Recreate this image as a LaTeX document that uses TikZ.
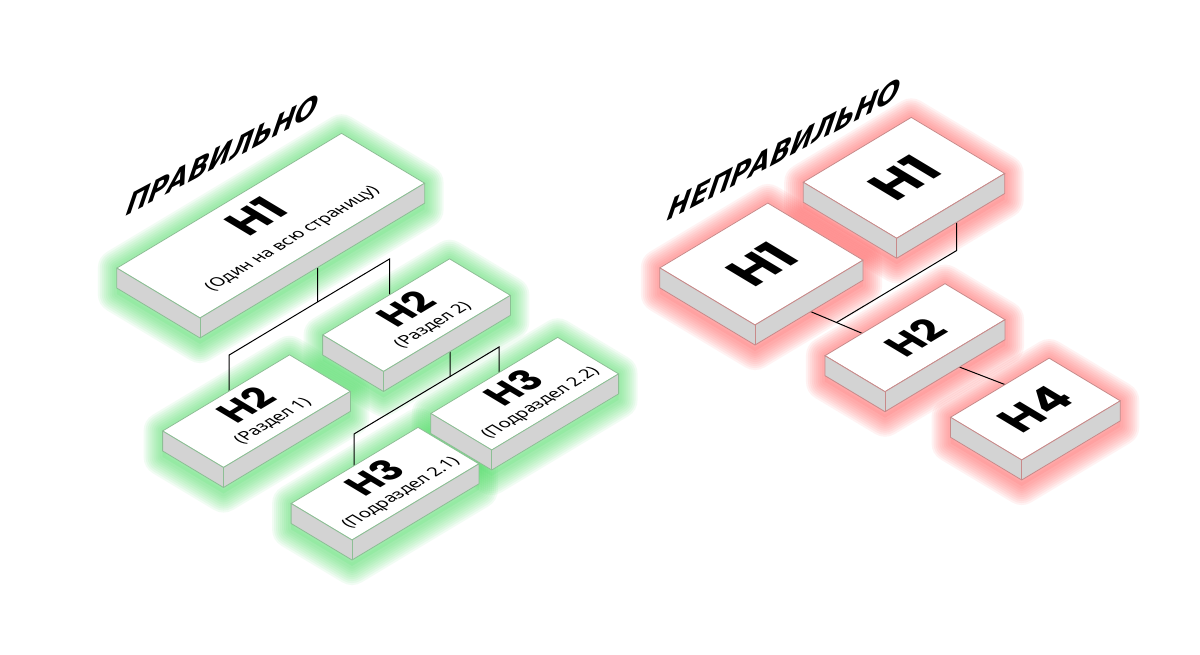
\documentclass[tikz,border=0pt]{standalone}
\usepackage{fontspec}
\setmainfont{Noto Sans}
\newfontfamily\hfont{Poppins}
\newfontfamily\tfont{DejaVu Sans}
\usetikzlibrary{calc}
\pgfdeclarelayer{bg}
\pgfdeclarelayer{glow}
\pgfdeclarelayer{wires}
\pgfsetlayers{bg,glow,wires,main}

\definecolor{okglow}{HTML}{4FE067}
\definecolor{okedge}{HTML}{8DBF95}
\definecolor{badglow}{HTML}{FF6262}
\definecolor{badedge}{HTML}{C88A8A}
\definecolor{slabside}{HTML}{D3D3D3}

\tikzset{
  iso/.style={cm={0.8575,0.5145,-0.8575,0.5145,(0,0)}},
  face/.style={draw=#1, fill=white, line width=0.8pt, transform shape, anchor=south west,
    inner sep=0pt, outer sep=0pt, align=center, font=\fontsize{17}{18}\selectfont},
  wire/.style={black, line width=1pt},
  title/.style={transform shape, anchor=base west, inner sep=0pt, font=\tfont\bfseries\itshape\fontsize{30}{30}\selectfont},
}
\newcommand{\hl}[2]{{\hfont\bfseries\fontsize{#1}{#1}\selectfont #2}}

\begin{document}
\begin{tikzpicture}[x=1pt, y=1pt]
    \useasboundingbox (0,0) rectangle (1200,-655);
    \begin{pgfonlayer}{bg}
        \fill[white] (0,0) rectangle (1200,-655);
    \end{pgfonlayer}

    % front corners of the top faces
    \coordinate (c-h1) at (200,-318);
    \coordinate (c-h2a) at (223.5,-467.5);
    \coordinate (c-h2b) at (383.5,-371.5);
    \coordinate (c-h3a) at (352,-540);
    \coordinate (c-h3b) at (491.7,-450);
    \coordinate (c-w1) at (755,-325);
    \coordinate (c-w1b) at (896.7,-238.3);
    \coordinate (c-w2) at (885,-391.7);
    \coordinate (c-w4) at (1021.7,-460);

    \begin{scope}[iso]
        \node[face=okedge, minimum width=262, minimum height=97] (h1) at (c-h1) {\hl{45}{H1}\\[13pt](Один на всю страницу)};
        \node[face=okedge, minimum width=148, minimum height=71] (h2a) at (c-h2a) {\hl{38}{H2}\\[4pt](Раздел 1)};
        \node[face=okedge, minimum width=148, minimum height=71] (h2b) at (c-h2b) {\hl{38}{H2}\\[4pt](Раздел 2)};
        \node[face=okedge, minimum width=148, minimum height=71] (h3a) at (c-h3a) {\hl{38}{H3}\\[4pt](Подраздел 2.1)};
        \node[face=okedge, minimum width=148, minimum height=71] (h3b) at (c-h3b) {\hl{38}{H3}\\[4pt](Подраздел 2.2)};

        \node[face=badedge, minimum width=126, minimum height=111] (w1) at (c-w1) {\hl{52}{H1}};
        \node[face=badedge, minimum width=126, minimum height=109] (w1b) at (c-w1b) {\hl{52}{H1}};
        \node[face=badedge, minimum width=140, minimum height=70] (w2) at (c-w2) {\hl{40}{H2}};
        \node[face=badedge, minimum width=115, minimum height=83] (w4) at (c-w4) {\hl{46}{H4}};
    \end{scope}

    % slab sides
    \foreach \n/\c in {h1/okedge, h2a/okedge, h2b/okedge, h3a/okedge, h3b/okedge, w1/badedge, w1b/badedge, w2/badedge, w4/badedge} {
        \filldraw[fill=slabside, draw=\c, line width=0.8pt, line join=round]
            (\n.north west) -- (\n.south west) -- (\n.south east) -- ++(0,-20)
            -- ($(\n.south west)+(0,-20)$) -- ($(\n.north west)+(0,-20)$) -- cycle;
        \draw[\c, line width=0.8pt] (\n.south west) -- ++(0,-20);
    }

    % glow
    \begin{pgfonlayer}{glow}
        \foreach \n/\c in {h1/okglow, h2a/okglow, h2b/okglow, h3a/okglow, h3b/okglow, w1/badglow, w1b/badglow, w2/badglow, w4/badglow} {
            \fill[\c, opacity=.12] (\n.north west) -- (\n.north east) -- (\n.south east) -- ++(0,-26)
                -- ($(\n.south west)+(0,-26)$) -- ($(\n.north west)+(0,-26)$) -- cycle;
            \foreach \w in {38,34,...,6}
                \draw[\c, opacity=.08, line width=\w pt, line join=round]
                    (\n.north west) -- (\n.north east) -- (\n.south east) -- ++(0,-26)
                    -- ($(\n.south west)+(0,-26)$) -- ($(\n.north west)+(0,-26)$) -- cycle;
        }
    \end{pgfonlayer}

    % connectors
    \coordinate (j1) at (317.5,-302);
    \coordinate (a1) at (229.2,-355);
    \coordinate (b1) at (389.5,-259);
    \coordinate (j2) at (450,-376.5);
    \coordinate (a2) at (354,-434);
    \coordinate (b2) at (499,-347);
    \coordinate (j3) at (836.5,-322.5);
    \coordinate (k1) at (956.7,-250.5);
    \coordinate (s1) at (795,-305);
    \coordinate (e1) at (875,-338.8);
    \coordinate (s2) at (945,-361.5);
    \coordinate (e2) at (1030,-394.2);
    \begin{pgfonlayer}{wires}
        \draw[wire] (j1 |- h1.center) -- (j1) -- (a1) -- (a1 |- h2a.center);
        \draw[wire] (j1) -- (b1) -- (b1 |- h2b.center);
        \draw[wire] (j2 |- h2b.center) -- (j2) -- (a2) -- (a2 |- h3a.center);
        \draw[wire] (j2) -- (b2) -- (b2 |- h3b.center);

        \draw[wire] (k1 |- w1b.center) -- (k1) -- (j3);
        \draw[wire] (s1) -- (j3) -- (e1);
        \draw[wire] (s2) -- (e2);
    \end{pgfonlayer}

    \begin{scope}[shift={(125,-216.7)}, cm={0.883,0.469,0.2,1,(0,0)}]
        \node[title] (good) at (0,0) {ПРАВИЛЬНО};
    \end{scope}
    \begin{scope}[shift={(666.7,-221.7)}, cm={0.883,0.469,0.2,1,(0,0)}]
        \node[title] (bad) at (0,0) {НЕПРАВИЛЬНО};
    \end{scope}
\end{tikzpicture}
\end{document}
